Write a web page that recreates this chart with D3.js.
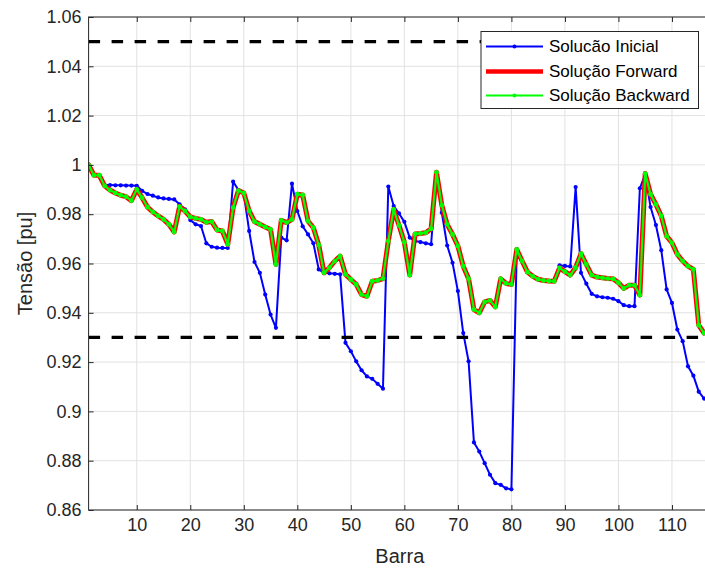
<!DOCTYPE html>
<html>
<head>
<meta charset="utf-8">
<script src="https://cdn.jsdelivr.net/npm/d3@7"></script>
<style>
  html, body { margin: 0; padding: 0; background: #ffffff; }
  svg { display: block; font-family: "Liberation Sans", Arial, sans-serif; }
</style>
</head>
<body>
<svg id="chart" width="705" height="570"></svg>
<script>
// Bus voltage profile (p.u.) for each solution method
const barras = d3.range(1, 117);

const solucaoInicial = [
  1.0000, 0.9958, 0.9958, 0.9918, 0.9918, 0.9917, 0.9917, 0.9916, 0.9916, 0.9915,
  0.9895, 0.9882, 0.9875, 0.9868, 0.9864, 0.9862, 0.9860, 0.9840, 0.9820, 0.9776,
  0.9759, 0.9752, 0.9682, 0.9668, 0.9664, 0.9663, 0.9663, 0.9932, 0.9898, 0.9883,
  0.9732, 0.9606, 0.9562, 0.9474, 0.9393, 0.9339, 0.9705, 0.9694, 0.9924, 0.9813,
  0.9751, 0.9718, 0.9682, 0.9576, 0.9562, 0.9560, 0.9558, 0.9556, 0.9278, 0.9244,
  0.9203, 0.9167, 0.9142, 0.9132, 0.9112, 0.9092, 0.9912, 0.9833, 0.9803, 0.9769,
  0.9705, 0.9691, 0.9687, 0.9682, 0.9678, 0.9968, 0.9806, 0.9673, 0.9603, 0.9488,
  0.9318, 0.9203, 0.8874, 0.8837, 0.8790, 0.8743, 0.8709, 0.8702, 0.8688, 0.8684,
  0.9657, 0.9610, 0.9565, 0.9548, 0.9536, 0.9531, 0.9529, 0.9528, 0.9593, 0.9590,
  0.9588, 0.9910, 0.9562, 0.9518, 0.9477, 0.9467, 0.9463, 0.9461, 0.9457, 0.9447,
  0.9431, 0.9427, 0.9427, 0.9905, 0.9962, 0.9829, 0.9756, 0.9654, 0.9495, 0.9440,
  0.9332, 0.9285, 0.9183, 0.9145, 0.9080, 0.9052
];

const solucaoForward = [
  1.0000, 0.9958, 0.9958, 0.9915, 0.9898, 0.9886, 0.9877, 0.9871, 0.9855, 0.9901,
  0.9867, 0.9829, 0.9809, 0.9793, 0.9779, 0.9759, 0.9728, 0.9831, 0.9813, 0.9789,
  0.9783, 0.9779, 0.9767, 0.9770, 0.9736, 0.9732, 0.9678, 0.9827, 0.9896, 0.9886,
  0.9813, 0.9770, 0.9759, 0.9748, 0.9738, 0.9596, 0.9775, 0.9766, 0.9779, 0.9881,
  0.9878, 0.9772, 0.9745, 0.9675, 0.9562, 0.9583, 0.9610, 0.9630, 0.9556, 0.9535,
  0.9515, 0.9474, 0.9467, 0.9528, 0.9531, 0.9539, 0.9691, 0.9819, 0.9755, 0.9686,
  0.9553, 0.9720, 0.9722, 0.9725, 0.9741, 0.9970, 0.9836, 0.9759, 0.9718, 0.9671,
  0.9589, 0.9538, 0.9413, 0.9400, 0.9444, 0.9450, 0.9424, 0.9538, 0.9519, 0.9515,
  0.9657, 0.9610, 0.9565, 0.9548, 0.9536, 0.9531, 0.9529, 0.9528, 0.9582, 0.9567,
  0.9553, 0.9583, 0.9640, 0.9596, 0.9553, 0.9545, 0.9542, 0.9539, 0.9538, 0.9522,
  0.9499, 0.9512, 0.9512, 0.9472, 0.9965, 0.9881, 0.9840, 0.9793, 0.9711, 0.9684,
  0.9637, 0.9610, 0.9589, 0.9576, 0.9350, 0.9318
];

// The backward sweep converges to the same profile as the forward sweep
const solucaoBackward = solucaoForward.slice();

const limites = [1.05, 0.93];
const xTicks = [10, 20, 30, 40, 50, 60, 70, 80, 90, 100, 110];
const yTicks = [0.86, 0.88, 0.9, 0.92, 0.94, 0.96, 0.98, 1, 1.02, 1.04, 1.06];

const series = [
  { nome: "Solucão Inicial", valores: solucaoInicial, cor: "#0000ff", largura: 2, marcador: 2.1 },
  { nome: "Solução Forward", valores: solucaoForward, cor: "#ff0000", largura: 5, marcador: 0 },
  { nome: "Solução Backward", valores: solucaoBackward, cor: "#00ff00", largura: 2.2, marcador: 2.4 }
];

(function desenhar() {
  const svg = d3.select("#chart");
  const W = 705, H = 570;
  const mLeft = 88.6, mTop = 17, mBottom = 510;
  const mRight = mLeft + 116 * 5.352;

  const x = d3.scaleLinear().domain([1, 117]).range([mLeft, mRight]);
  const y = d3.scaleLinear().domain([0.86, 1.06]).range([mBottom, mTop]);

  svg.append("rect").attr("width", W).attr("height", H).attr("fill", "#ffffff");

  svg.append("defs").append("clipPath").attr("id", "area")
    .append("rect").attr("x", mLeft).attr("y", mTop)
    .attr("width", mRight - mLeft).attr("height", mBottom - mTop);

  // grid
  const grid = svg.append("g").attr("stroke", "#e2e2e2").attr("stroke-width", 1);
  grid.selectAll("line.gx").data(xTicks).join("line")
    .attr("x1", d => x(d)).attr("x2", d => x(d)).attr("y1", mTop).attr("y2", mBottom);
  grid.selectAll("line.gy").data(yTicks).join("line")
    .attr("y1", d => y(d)).attr("y2", d => y(d)).attr("x1", mLeft).attr("x2", mRight);

  const plot = svg.append("g").attr("clip-path", "url(#area)");

  const linha = vals => d3.line().x((d, i) => x(barras[i])).y(d => y(d))(vals);

  series.forEach(s => {
    plot.append("path").attr("d", linha(s.valores))
      .attr("fill", "none").attr("stroke", s.cor).attr("stroke-width", s.largura)
      .attr("stroke-linejoin", "round").attr("stroke-linecap", "round");
    if (s.marcador > 0) {
      plot.append("g").attr("fill", s.cor).selectAll("circle").data(s.valores).join("circle")
        .attr("cx", (d, i) => x(barras[i])).attr("cy", d => y(d)).attr("r", s.marcador);
    }
  });

  // voltage limits
  plot.selectAll("line.lim").data(limites).join("line")
    .attr("x1", mLeft).attr("x2", mRight)
    .attr("y1", d => y(d)).attr("y2", d => y(d))
    .attr("stroke", "#000000").attr("stroke-width", 3.2)
    .attr("stroke-dasharray", "11.5,11.5");

  // axes box and ticks
  const axisColor = "#262626";
  svg.append("rect").attr("x", mLeft).attr("y", mTop)
    .attr("width", mRight - mLeft).attr("height", mBottom - mTop)
    .attr("fill", "none").attr("stroke", axisColor).attr("stroke-width", 1);

  const gx = svg.append("g").attr("transform", `translate(0,${mBottom})`)
    .call(d3.axisBottom(x).tickValues(xTicks).tickSize(-5).tickPadding(8).tickFormat(d3.format("d")));
  const gxTop = svg.append("g").attr("transform", `translate(0,${mTop})`)
    .call(d3.axisTop(x).tickValues(xTicks).tickSize(-5).tickFormat(""));
  const gy = svg.append("g").attr("transform", `translate(${mLeft},0)`)
    .call(d3.axisLeft(y).tickValues(yTicks).tickSize(-5).tickPadding(7).tickFormat(d => String(+d.toFixed(2))));

  [gx, gxTop, gy].forEach(g => {
    g.select(".domain").remove();
    g.selectAll(".tick line").attr("stroke", axisColor);
    g.selectAll(".tick text").attr("fill", axisColor).style("font-size", "18px")
      .style("font-family", "'Liberation Sans', Arial, sans-serif");
  });

  svg.append("text").attr("x", (mLeft + 705) / 2 + 3).attr("y", 563)
    .attr("text-anchor", "middle").attr("fill", axisColor)
    .style("font-size", "20px").text("Barra");

  svg.append("text").attr("transform", `translate(32,${(mTop + mBottom) / 2}) rotate(-90)`)
    .attr("text-anchor", "middle").attr("fill", axisColor)
    .style("font-size", "20px").text("Tensão [pu]");

  // legend
  const lg = svg.append("g");
  lg.append("rect").attr("x", 481).attr("y", 31.5).attr("width", 217.5).attr("height", 77)
    .attr("fill", "#ffffff").attr("stroke", axisColor).attr("stroke-width", 1);
  const rowY = [46.5, 71.5, 95.5];
  series.forEach((s, i) => {
    lg.append("line").attr("x1", 486).attr("x2", 543).attr("y1", rowY[i]).attr("y2", rowY[i])
      .attr("stroke", s.cor).attr("stroke-width", s.largura === 5 ? 4.5 : 2);
    if (s.marcador > 0) {
      lg.append("circle").attr("cx", 514.5).attr("cy", rowY[i]).attr("r", 2).attr("fill", s.cor);
    }
    lg.append("text").attr("x", 549).attr("y", rowY[i]).attr("dy", "0.35em")
      .attr("fill", "#000000").style("font-size", "17px").text(s.nome);
  });
})();
</script>
</body>
</html>
